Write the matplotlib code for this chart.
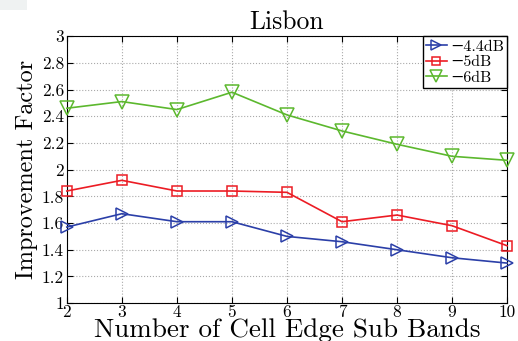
import numpy as np
import matplotlib.pyplot as plt
from matplotlib.patches import Rectangle

plt.rcParams['font.family'] = ['cmr10', 'DejaVu Serif']
plt.rcParams['axes.formatter.use_mathtext'] = True

sub_bands = [2, 3, 4, 5, 6, 7, 8, 9, 10]
imp_44 = [1.57, 1.67, 1.61, 1.61, 1.50, 1.46, 1.40, 1.34, 1.30]
imp_5 = [1.84, 1.92, 1.84, 1.84, 1.83, 1.61, 1.66, 1.58, 1.43]
imp_6 = [2.46, 2.51, 2.45, 2.58, 2.41, 2.29, 2.19, 2.10, 2.07]
labels = ['\u22124.4dB', '\u22125dB', '\u22126dB']
y_ticks = [1, 1.2, 1.4, 1.6, 1.8, 2, 2.2, 2.4, 2.6, 2.8, 3]

fig = plt.figure(figsize=(5.18, 3.41), dpi=100)
ax = fig.add_axes([0.129, 0.111, 0.850, 0.783])

# faint grey scrap in the top-left corner of the scan
fig.patches.append(Rectangle((0, 1 - 10 / 341), 27 / 518, 10 / 341,
                             transform=fig.transFigure, color='#eff2f2', lw=0))

ax.plot(sub_bands, imp_44, color='#2b3fa8', marker='>', markersize=9,
        markerfacecolor='none', markeredgewidth=1.1, lw=1.2, label=labels[0],
        clip_on=False, zorder=3)
ax.plot(sub_bands, imp_5, color='#ec1c24', marker='s', markersize=7.5,
        markerfacecolor='none', markeredgewidth=1.1, lw=1.2, label=labels[1],
        clip_on=False, zorder=3)
ax.plot(sub_bands, imp_6, color='#5cb82e', marker='v', markersize=10,
        markerfacecolor='none', markeredgewidth=1.1, lw=1.2, label=labels[2],
        clip_on=False, zorder=3)

ax.set_xlim(2, 10)
ax.set_ylim(1, 3)
ax.set_xticks(sub_bands)
ax.set_xticklabels([str(v) for v in sub_bands])
ax.set_yticks(y_ticks)
ax.set_yticklabels(['%g' % v for v in y_ticks])
ax.grid(True, linestyle=':', color='#aaaaaa', lw=0.8)
ax.tick_params(direction='in', labelsize=12.5, length=4, top=True, right=True)
ax.tick_params(axis='x', pad=1)
ax.tick_params(axis='y', pad=2)

ax.set_title('Lisbon', fontsize=18.5, pad=5)
ax.set_xlabel('Number of Cell Edge Sub Bands', fontsize=19.5, labelpad=-1.5)
ax.set_ylabel('Improvement Factor', fontsize=17.5, labelpad=3)

leg = ax.legend(loc='upper right', fontsize=11.5, handlelength=1.3,
                handletextpad=0.2, borderpad=0.2, labelspacing=0.1,
                borderaxespad=0.0, fancybox=False, framealpha=1,
                markerscale=0.85)
leg.get_frame().set_edgecolor('black')
leg.set_zorder(5)

fig.savefig('out.png', dpi=100)
